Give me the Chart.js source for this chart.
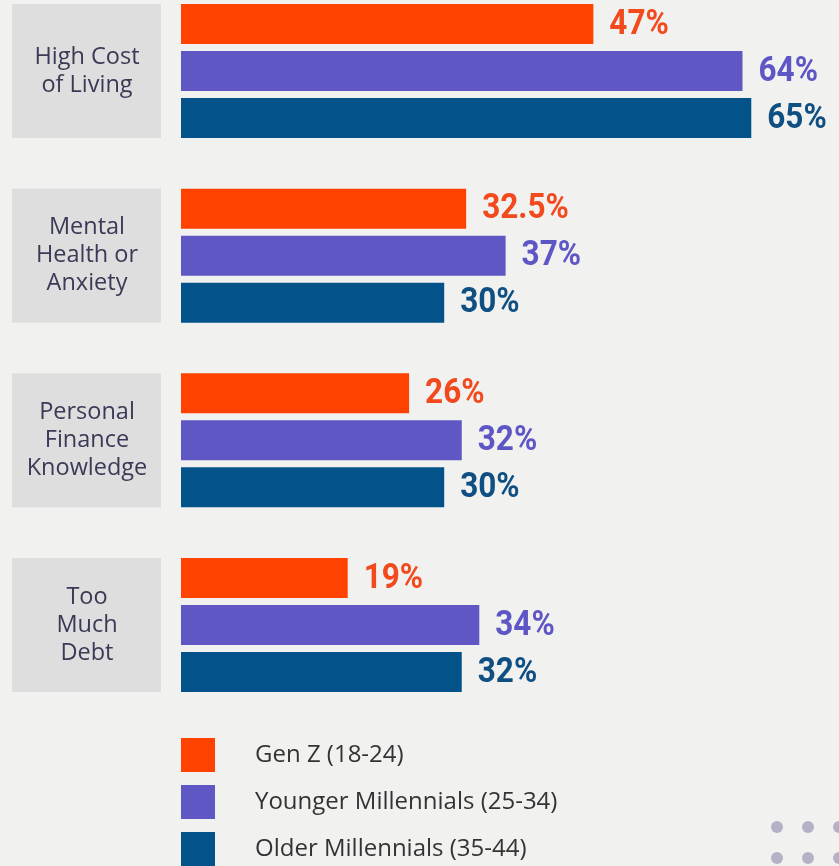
<!DOCTYPE html>
<html lang="en">
<head>
    <meta charset="UTF-8">
    <title>Financial stress by generation</title>
    <script src="https://cdn.jsdelivr.net/npm/chart.js@4.4.1/dist/chart.umd.min.js"></script>
    <style>
        html, body {
            margin: 0;
            padding: 0;
            background: #f1f1f0;
        }
        #wrap {
            width: 839px;
            height: 866px;
            position: relative;
        }
    </style>
</head>
<body>
    <div id="wrap"><canvas id="chart"></canvas></div>

    <script>
        // chart data
        const categories = [
            ['High Cost', 'of Living'],
            ['Mental', 'Health or', 'Anxiety'],
            ['Personal', 'Finance', 'Knowledge'],
            ['Too', 'Much', 'Debt']
        ];
        const seriesNames = ['Gen Z (18-24)', 'Younger Millennials (25-34)', 'Older Millennials (35-44)'];
        const genZ = [47, 32.5, 26, 19];
        const youngerMill = [64, 37, 32, 34];
        const olderMill = [65, 30, 30, 32];
        const barColors = ['#ff4200', '#5f57c3', '#03528a'];
        const labelColors = ['#f2491d', '#5f56c6', '#0f4f82'];

        const labelFont = "bold 35px Roboto, 'DejaVu Sans', sans-serif";
        const labelSquash = 0.9; // condensed look for the value labels
        const catFont = "23.5px 'Open Sans', 'Noto Sans', sans-serif";
        const legendFont = "24px 'Open Sans', 'Noto Sans', sans-serif";

        // grey boxes + category text on the left
        const categoryBoxes = {
            id: 'categoryBoxes',
            beforeDatasetsDraw(chart) {
                const ctx = chart.ctx;
                const y = chart.scales.y;
                ctx.save();
                categories.forEach((lines, i) => {
                    const cy = y.getPixelForTick(i);
                    ctx.fillStyle = '#dedede';
                    ctx.fillRect(12, cy - 67, 149, 134);
                    ctx.fillStyle = '#3b3a56';
                    ctx.font = catFont;
                    ctx.textAlign = 'center';
                    ctx.textBaseline = 'middle';
                    const lh = 28;
                    const start = cy - (lines.length - 1) * lh / 2;
                    lines.forEach((t, k) => ctx.fillText(t, 87, start + k * lh));
                });
                ctx.restore();
            }
        };

        // value labels at bar ends
        const valueLabels = {
            id: 'valueLabels',
            afterDatasetsDraw(chart) {
                const ctx = chart.ctx;
                chart.data.datasets.forEach((ds, di) => {
                    chart.getDatasetMeta(di).data.forEach((bar, i) => {
                        ctx.save();
                        ctx.translate(bar.x + 16, bar.y + 1);
                        ctx.scale(labelSquash, 1);
                        ctx.font = labelFont;
                        ctx.textAlign = 'left';
                        ctx.textBaseline = 'middle';
                        ctx.fillStyle = labelColors[di];
                        ctx.fillText(ds.data[i] + '%', 0, 0);
                        ctx.restore();
                    });
                });
            }
        };

        // vertical legend + corner dots
        const sideLegend = {
            id: 'sideLegend',
            afterDraw(chart) {
                const ctx = chart.ctx;
                ctx.save();
                chart.data.datasets.forEach((ds, i) => {
                    const top = 738 + i * 47;
                    ctx.fillStyle = ds.backgroundColor;
                    ctx.fillRect(181, top, 34, 34);
                    ctx.fillStyle = '#333333';
                    ctx.font = legendFont;
                    ctx.textBaseline = 'middle';
                    ctx.fillText(ds.label, 255, top + 17);
                });
                ctx.fillStyle = '#b4b2c6';
                [827, 858].forEach(dy => {
                    [777, 808, 839].forEach(dx => {
                        ctx.beginPath();
                        ctx.arc(dx, dy, 6, 0, Math.PI * 2);
                        ctx.fill();
                    });
                });
                ctx.restore();
            }
        };

        const seriesValues = [genZ, youngerMill, olderMill];

        new Chart(document.getElementById('chart'), {
            type: 'bar',
            data: {
                labels: categories.map(c => c.join(' ')),
                datasets: seriesValues.map((vals, i) => ({
                    label: seriesNames[i],
                    data: vals,
                    backgroundColor: barColors[i],
                    borderWidth: 0,
                    categoryPercentage: 0.7635,
                    barPercentage: 0.851,
                    clip: false
                }))
            },
            options: {
                indexAxis: 'y',
                responsive: true,
                maintainAspectRatio: false,
                animation: false,
                layout: {
                    padding: { left: 181, right: 0, top: 71, bottom: 241 }
                },
                scales: {
                    x: {
                        display: false,
                        min: 0,
                        max: 75
                    },
                    y: {
                        display: false,
                        offset: false,
                        grid: { display: false }
                    }
                },
                plugins: {
                    legend: { display: false },
                    tooltip: { enabled: false }
                }
            },
            plugins: [categoryBoxes, valueLabels, sideLegend]
        });
    </script>
</body>
</html>
